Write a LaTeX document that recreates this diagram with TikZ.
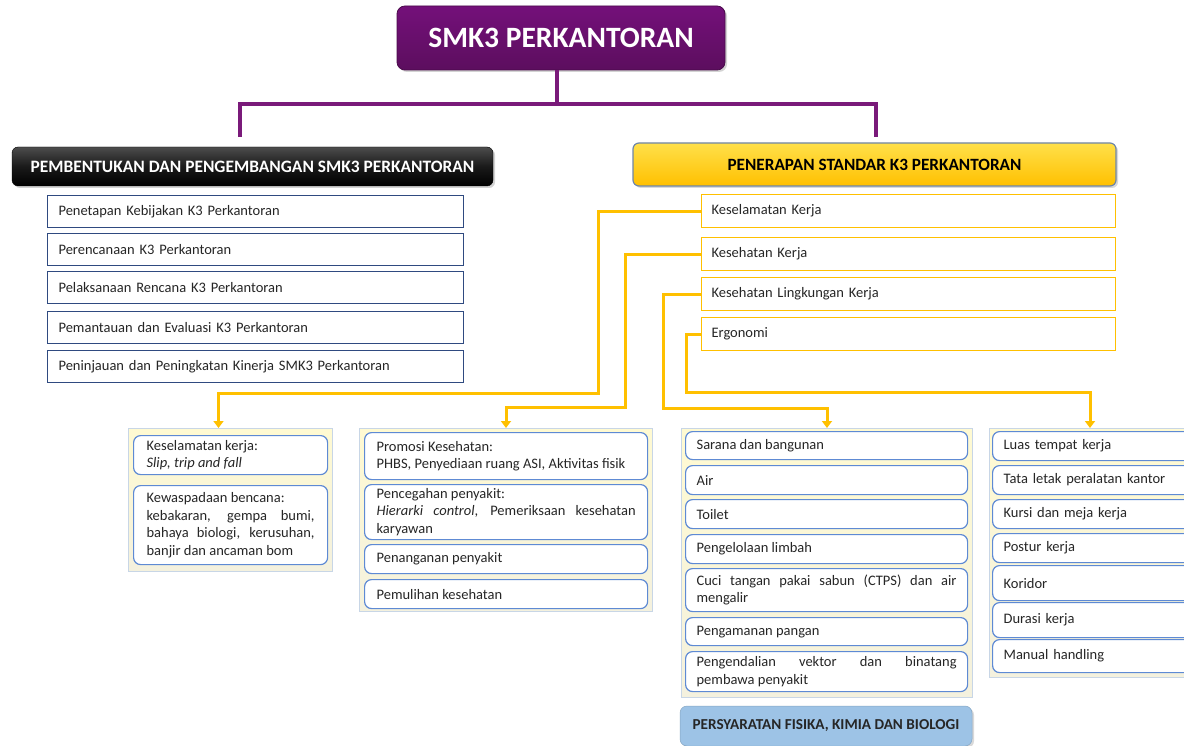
\documentclass[tikz,border=0pt]{standalone}
\usepackage{fontspec}
\setmainfont{Carlito}
\usetikzlibrary{arrows.meta,shadows}
\hyphenpenalty=10000
\exhyphenpenalty=10000
\definecolor{purpA}{HTML}{74107A}
\definecolor{purpB}{HTML}{5C0E5E}
\definecolor{purpL}{HTML}{7A1A7A}
\definecolor{navyB}{HTML}{2F4A80}
\definecolor{goldL}{HTML}{FFC000}
\definecolor{goldT}{HTML}{FFE04A}
\definecolor{slateB}{HTML}{6E86A8}
\definecolor{rblue}{HTML}{5E8AD4}
\definecolor{panelT}{HTML}{FFFAD2}
\definecolor{panelB}{HTML}{F4F1DE}
\definecolor{panelE}{HTML}{C8D6E6}
\definecolor{skyB}{HTML}{9DC3E6}
\definecolor{txt}{HTML}{262626}
\begin{document}
\begin{tikzpicture}[x=1pt,y=-1pt,
  every node/.style={inner sep=0pt, text=txt},
  bodyfont/.style={font=\fontsize{14.5}{17.6}\selectfont},
  titlebox/.style={rounded corners=8pt, top color=purpA, bottom color=purpB, draw=purpB!80!black, line width=0.8pt,
     drop shadow={shadow xshift=2pt, shadow yshift=-2pt, opacity=0.35},
     text=white, font=\bfseries\fontsize{29.5}{32}\selectfont, minimum width=328pt, minimum height=64pt},
  blackhdr/.style={rounded corners=6pt, top color=black!70, bottom color=black, middle color=black!90, draw=black,
     drop shadow={shadow xshift=2pt, shadow yshift=-2pt, opacity=0.35},
     text=white, font=\bfseries\fontsize{17.4}{20}\selectfont, minimum width=481pt, minimum height=39pt},
  yellowhdr/.style={rounded corners=6pt, top color=goldT, bottom color=goldL, draw=slateB, line width=1.2pt,
     drop shadow={shadow xshift=2pt, shadow yshift=-2pt, opacity=0.3},
     text=black, font=\bfseries\fontsize{17.2}{20}\selectfont, minimum width=483pt, minimum height=43pt},
  bluehdr/.style={rounded corners=7pt, fill=skyB, draw=skyB!85!black, line width=0.5pt,
     drop shadow={shadow xshift=2pt, shadow yshift=-2pt, opacity=0.3},
     text=txt, font=\bfseries\fontsize{15.2}{18}\selectfont, minimum width=292pt, minimum height=40pt},
  lbox/.style={bodyfont, draw=navyB, line width=1.1pt, fill=white, anchor=north west, minimum height=32pt,
     text width=394pt, inner xsep=11pt, align=left},
  kbox/.style={bodyfont, draw=goldL, line width=1.1pt, fill=white, anchor=north west, minimum height=33pt,
     text width=394pt, inner xsep=10pt, align=left},
  panel/.style={anchor=north west, top color=panelT, bottom color=panelB, draw=panelE, line width=1pt},
  rbox/.style={bodyfont, rounded corners=7pt, draw=rblue, line width=1.2pt, fill=white, anchor=north west, align=justify},
  rA/.style={rbox, text width=168pt, inner xsep=13pt},
  rB/.style={rbox, text width=259pt, inner xsep=12pt},
  rC/.style={rbox, text width=260pt, inner xsep=11pt},
  rD/.style={rbox, text width=179pt, inner xsep=11pt, align=left},
  pconn/.style={draw=purpL, line width=4pt},
  yconn/.style={draw=goldL, line width=3pt, -{Triangle[width=10pt,length=7pt]}}
]
\useasboundingbox (0,0) rectangle (1184,746);

% title and top connectors
\node[titlebox] (title) at (561,38) {SMK3 PERKANTORAN};
\coordinate (hub) at (557,104);
\coordinate (pl) at (240,137);
\coordinate (pr) at (876,137);
\draw[pconn] (hub |- title.south) -- (hub);
\draw[pconn] (pl) |- (hub) -| (pr);

% headers
\node[blackhdr] (hdrL) at (252.5,166.5) {PEMBENTUKAN DAN PENGEMBANGAN SMK3 PERKANTORAN};
\node[yellowhdr] (hdrR) at (874.5,164.5) {PENERAPAN STANDAR K3 PERKANTORAN};

% left list
\node[lbox] (l1) at (47,195) {Penetapan Kebijakan K3 Perkantoran};
\node[lbox] (l2) at (47,233) {Perencanaan K3 Perkantoran};
\node[lbox] (l3) at (47,271) {Pelaksanaan Rencana K3 Perkantoran};
\node[lbox] (l4) at (47,311) {Pemantauan dan Evaluasi K3 Perkantoran};
\node[lbox] (l5) at (47,350) {Peninjauan dan Peningkatan Kinerja SMK3 Perkantoran};

% right list
\node[kbox] (k1) at (701,194) {Keselamatan Kerja};
\node[kbox] (k2) at (701,237) {Kesehatan Kerja};
\node[kbox] (k3) at (701,277) {Kesehatan Lingkungan Kerja};
\node[kbox] (k4) at (701,317) {Ergonomi};

% panels
\node[panel, minimum width=204pt, minimum height=143pt] (pA) at (128,428) {};
\node[panel, minimum width=293pt, minimum height=183pt] (pB) at (359,428) {};
\node[panel, minimum width=291pt, minimum height=269pt] (pC) at (681,428) {};
\node[panel, minimum width=201pt, minimum height=249pt] (pD) at (989,428) {};

% panel A
\node[rA, minimum height=39pt] (a1) at (133,435) {Keselamatan kerja:\\\textit{Slip, trip and fall}};
\node[rA, minimum height=79pt] (a2) at (133,485) {Kewaspadaan bencana:\\kebakaran, gempa bumi, bahaya biologi, kerusuhan, banjir dan ancaman bom};

% panel B
\node[rB, minimum height=47pt] (b1) at (364,432) {Promosi Kesehatan:\\PHBS, Penyediaan ruang ASI, Aktivitas fisik};
\node[rB, minimum height=55pt] (b2) at (364,484) {Pencegahan penyakit:\\\textit{Hierarki control}, Pemeriksaan kesehatan karyawan};
\node[rB, minimum height=29pt] (b3) at (364,544) {Penanganan penyakit};
\node[rB, minimum height=29pt] (b4) at (364,579) {Pemulihan kesehatan};

% panel C
\node[rC, minimum height=28pt] (c1) at (685,431) {Sarana dan bangunan};
\node[rC, minimum height=29pt] (c2) at (685,465) {Air};
\node[rC, minimum height=29pt] (c3) at (685,499) {Toilet};
\node[rC, minimum height=29pt] (c4) at (685,534) {Pengelolaan limbah};
\node[rC, minimum height=43pt] (c5) at (685,568) {Cuci tangan pakai sabun (CTPS) dan air\linebreak mengalir};
\node[rC, minimum height=28pt] (c6) at (685,617) {Pengamanan pangan};
\node[rC, minimum height=40pt] (c7) at (685,651) {Pengendalian vektor dan binatang\linebreak pembawa penyakit};

% panel D
\node[rD, minimum height=29pt] (d1) at (992,431) {Luas tempat kerja};
\node[rD, minimum height=29pt] (d2) at (992,465) {Tata letak peralatan kantor};
\node[rD, minimum height=29pt] (d3) at (992,499) {Kursi dan meja kerja};
\node[rD, minimum height=29pt] (d4) at (992,533) {Postur kerja};
\node[rD, minimum height=35pt] (d5) at (992,565) {Koridor};
\node[rD, minimum height=35pt] (d6) at (992,602) {Durasi kerja};
\node[rD, minimum height=33pt] (d7) at (992,639) {Manual handling};

% bottom header
\node[bluehdr] (hdrB) at (826,726) {PERSYARATAN FISIKA, KIMIA DAN BIOLOGI};

% yellow connectors
\draw[yconn] (k1.west) -- ++(-103,0) -- ++(0,182.5) -| ([xshift=-12pt]pA.north);
\draw[yconn] (k2.west) -- ++(-76,0) -- ++(0,153.5) -| (pB.north);
\draw[yconn] (k3.west) -- ++(-38,0) -- ++(0,114.5) -| (pC.north);
\draw[yconn] (k4.west) -- ++(-15,0) -- ++(0,58.5) -| (pD.north);
\end{tikzpicture}
\end{document}
